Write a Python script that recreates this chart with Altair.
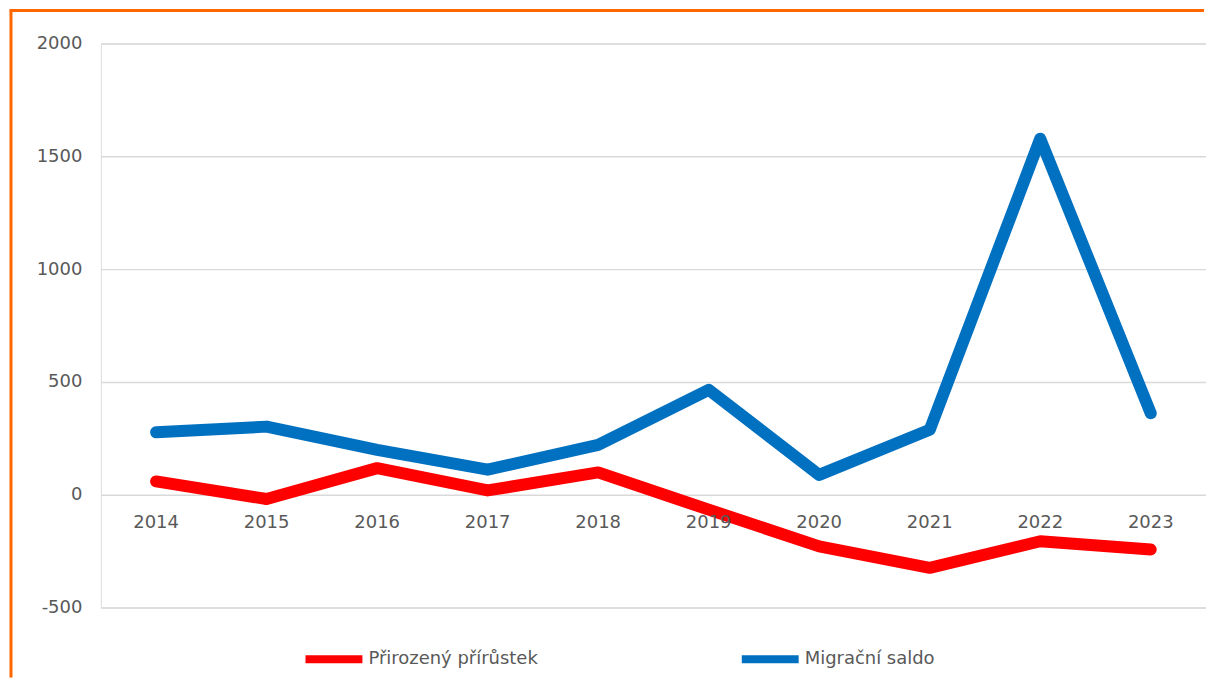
import altair as alt
import pandas as pd

years = [2014, 2015, 2016, 2017, 2018, 2019, 2020, 2021, 2022, 2023]
prirustek = [59, -19, 118, 19, 99, -66, -229, -324, -206, -243]
migrace = [277, 302, 199, 111, 221, 465, 88, 288, 1578, 361]
series_names = ["Přirozený přírůstek", "Migrační saldo"]
series_colors = ["#FF0000", "#0070C0"]
y_ticks = [-500, 0, 500, 1000, 1500, 2000]

rows = []
for y, v in zip(years, prirustek):
    rows.append({"rok": str(y), "hodnota": v, "rada": series_names[0]})
for y, v in zip(years, migrace):
    rows.append({"rok": str(y), "hodnota": v, "rada": series_names[1]})
df = pd.DataFrame(rows)
labels_df = pd.DataFrame({"rok": [str(y) for y in years], "nula": [0] * len(years)})

W, H = 1107, 565
FONT = "DejaVu Sans"
GREY = "#595959"
FS = 18

xscale = alt.Scale(type="point", padding=0.5, domain=[str(y) for y in years])
yscale = alt.Scale(domain=[-500, 2000], nice=False, zero=False)

lines = alt.Chart(df).mark_line(strokeWidth=12, strokeCap="round", strokeJoin="round").encode(
    x=alt.X("rok:O", scale=xscale, axis=None, sort=None),
    y=alt.Y("hodnota:Q", scale=yscale,
            axis=alt.Axis(values=y_ticks, title=None, grid=True, gridColor="#D9D9D9",
                          gridWidth=1.5, domain=False, ticks=False, labelPadding=19,
                          labelExpr="'' + datum.value",
                          labelFontSize=FS, labelColor=GREY, labelFont=FONT)),
    color=alt.Color("rada:N", scale=alt.Scale(domain=series_names, range=series_colors),
                    sort=series_names,
                    legend=alt.Legend(title=None, orient="none", direction="horizontal",
                                      legendX=201, legendY=584, symbolType="stroke",
                                      symbolSize=3249, symbolStrokeWidth=8,
                                      labelFontSize=FS, labelColor=GREY, labelFont=FONT,
                                      labelLimit=0, labelOffset=2, columnPadding=188)),
    order=alt.Order("rok:O"),
)

xlabels = alt.Chart(labels_df).mark_text(fontSize=FS, color=GREY, font=FONT, dy=28,
                                           baseline="middle").encode(
    x=alt.X("rok:O", scale=xscale, axis=None, sort=None),
    y=alt.Y("nula:Q", scale=yscale),
    text="rok:N",
)

one = pd.DataFrame({"a": [0]})
border_left = alt.Chart(one).mark_rule(color="#FF6600", strokeWidth=3).encode(
    x=alt.value(-90), y=alt.value(-33), y2=alt.value(H + 70))
border_top = alt.Chart(one).mark_rule(color="#FF6600", strokeWidth=3).encode(
    x=alt.value(-91.5), x2=alt.value(W - 2), y=alt.value(-33))

chart = alt.layer(lines, xlabels, border_left, border_top).properties(
    width=W, height=H, padding=0
).configure_view(stroke=None).configure(font=FONT)

chart.save("out.html", embed_options={"renderer": "svg", "actions": False})
